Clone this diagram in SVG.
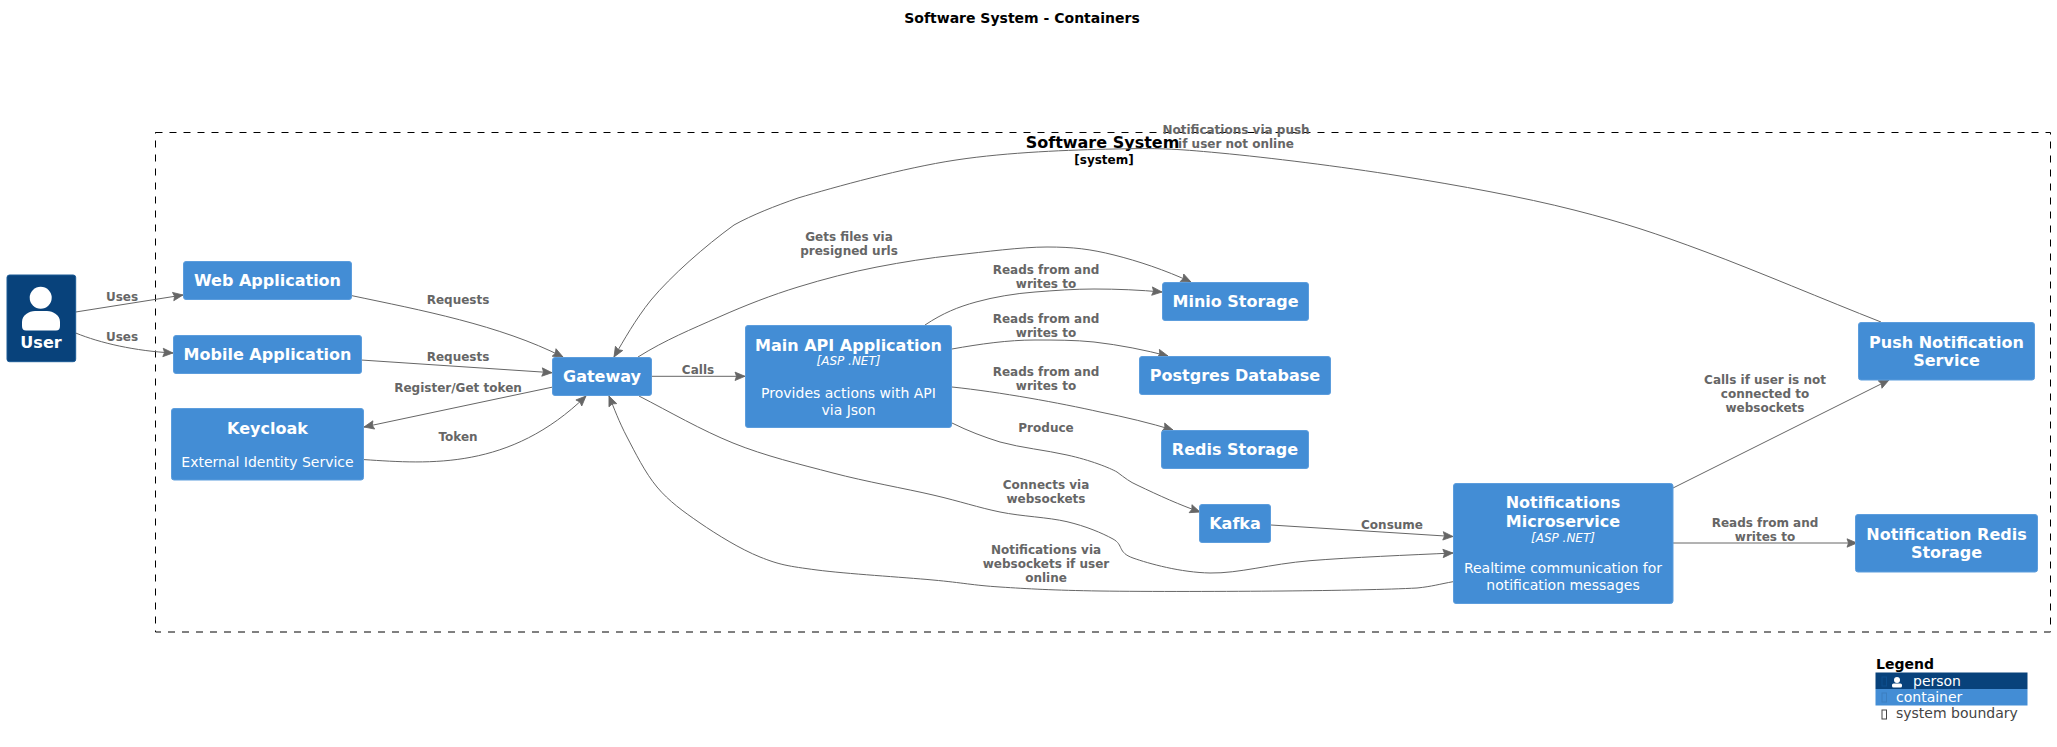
<svg xmlns="http://www.w3.org/2000/svg" width="2057" height="747" viewBox="0 0 2057 747">
<style>
text{font-family:"DejaVu Sans",sans-serif;text-anchor:middle}
.box{fill:#438DD5;stroke:#5C9DDD;stroke-width:1}
.t{font-size:16px;font-weight:bold;fill:#fff}
.d{font-size:14px;fill:#fff}
.k{font-size:12px;font-style:italic;fill:#fff}
.l{font-size:12px;font-weight:bold;fill:#666}
.c path{fill:none;stroke:#666;stroke-width:1;marker-end:url(#a)}
.s{text-anchor:start}
</style>
<defs>
<marker id="a" markerUnits="userSpaceOnUse" markerWidth="14" markerHeight="12" refX="10" refY="4.500" orient="auto" overflow="visible">
<path d="M0,0.300 L10,4.500 L0,8.700 L1.500,4.500 Z" fill="#666" stroke="#666" stroke-width="0.800"/>
</marker>
</defs>
<rect width="2057" height="747" fill="#fff"/>
<text id="title" x="1022" y="23" font-size="14" font-weight="bold">Software System - Containers</text>
<g id="boundary">
<rect x="155.500" y="132.500" width="1895" height="499.500" fill="none" stroke="#000" stroke-width="1" stroke-dasharray="7,7"/>
<text x="1102.500" y="148" font-size="16" font-weight="bold">Software System</text>
<text x="1104" y="164" font-size="12" font-weight="bold">[system]</text>
</g>
<g id="connectors" class="c">
<path d="M75.700,312 L183,295"/>
<path d="M75.700,333 C100,343 135,351 173,353"/>
<path d="M352,295.700 C420,310 500,325 563,357"/>
<path d="M361,360 L552,372.700"/>
<path d="M553,387 L364,427"/>
<path d="M364,459.600 C430,464 510,470 586,396"/>
<path d="M652,376.300 L745,376.300"/>
<path d="M638,357 C665,340 692,329 719,317 C746,305 772,295 798,287 C824,279 851,272 877,267 C903,262 928,258 956,255 C984,252 1021,247 1047,247 C1073,247 1090,249 1114,255 C1138,261 1165,270 1191,282"/>
<path d="M925,325 C943,313 958,307 976,302 C994,297 1015,293.500 1035,292 C1055,290.500 1074,289 1094,289 C1118,289 1140,290 1162,292"/>
<path d="M952,349 C980,344 1008,340 1035,340 C1055,340 1075,340 1094,342 C1120,345 1145,350 1168,356"/>
<path d="M952,387 C1000,392 1060,403 1100,412 C1125,417 1150,423 1173,430"/>
<path d="M952,423 C968,431 984,437 1000,442 C1022,448 1045,450 1067,455 C1090,460 1110,468 1117,472 C1125,478 1130,482 1137,485 C1160,496 1180,505 1200,512"/>
<path d="M639,396 C670,412 701,430 733,443 C765,456 800,464.300 833,473 C866,481.700 905,488.500 933,495 C961,501.500 978,507.500 1000,512 C1022,516.500 1048,517.200 1067,521.700 C1086,526.200 1102,533 1113,539 C1124,545 1117,552.300 1133,558 C1149,563.700 1181,572.500 1210,573 C1239,573.500 1270,564 1310,560.700 C1350,557.400 1410,555 1453,553"/>
<path d="M1271,525 L1453,536.500"/>
<path d="M1453,581.700 C1440,584 1432,586.500 1417,588 C1389,589.500 1336,590.500 1283,591 C1230,591.500 1147,591.700 1100,591 C1053,590.300 1028,588.800 1000,587 C972,585.200 963.500,582.800 933,580 C902.500,577.200 846,573.800 817,570 C788,566.200 779.500,564.800 760,557 C740.500,549.200 717,534.700 700,523 C683,511.300 669,501.300 657,487 C645,472.700 635,452.200 627,437 C619,421.800 614,408 609,396"/>
<path d="M1673,488 L1889,380"/>
<path d="M1673,543 L1857,543"/>
<path d="M1881,322 C1825,300 1757,271 1706,252 C1655,233 1625,223 1574,210 C1523,197 1459,185.500 1400,176 C1341,166.500 1268,157.500 1220,153 C1172,148.500 1158,148 1114,149 C1070,150 1009,152 956,160 C903,168 835,187 798,198 C775,206 752,215 734,225 C705,246 671,276 651,300 C635,320 624,340 614,357"/>
</g>
<g id="labels">
<text class="l" x="122" y="301">Uses</text>
<text class="l" x="122" y="341">Uses</text>
<text class="l" x="458" y="304">Requests</text>
<text class="l" x="458" y="361">Requests</text>
<text class="l" x="458" y="392">Register/Get token</text>
<text class="l" x="458" y="441">Token</text>
<text class="l" x="698" y="374">Calls</text>
<text class="l" x="849" y="241">Gets files via</text>
<text class="l" x="849" y="255">presigned urls</text>
<text class="l" x="1046" y="274">Reads from and</text>
<text class="l" x="1046" y="288">writes to</text>
<text class="l" x="1046" y="323">Reads from and</text>
<text class="l" x="1046" y="337">writes to</text>
<text class="l" x="1046" y="376">Reads from and</text>
<text class="l" x="1046" y="390">writes to</text>
<text class="l" x="1046" y="432">Produce</text>
<text class="l" x="1046" y="489">Connects via</text>
<text class="l" x="1046" y="503">websockets</text>
<text class="l" x="1046" y="554">Notifications via</text>
<text class="l" x="1046" y="568">websockets if user</text>
<text class="l" x="1046" y="582">online</text>
<text class="l" x="1392" y="529">Consume</text>
<text class="l" x="1765" y="384">Calls if user is not</text>
<text class="l" x="1765" y="398">connected to</text>
<text class="l" x="1765" y="412">websockets</text>
<text class="l" x="1765" y="527">Reads from and</text>
<text class="l" x="1765" y="541">writes to</text>
<text class="l" x="1236" y="134">Notifications via push</text>
<text class="l" x="1236" y="148">if user not online</text>
</g>
<g id="user">
<rect x="7" y="275" width="68.700" height="86.700" rx="2.500" fill="#08427B" stroke="#1A5A96"/>
<circle cx="40.700" cy="297.700" r="11" fill="#fff"/>
<path d="M22,326 V322 C22,315 29,311 35,311 H47 C53,311 60,315 60,322 V326 Q60,330.500 56,330.500 H26 Q22,330.500 22,326 Z" fill="#fff"/>
<text class="t" x="41" y="348">User</text>
</g>
<g id="web"><rect class="box" x="183.500" y="261.500" width="168" height="38" rx="2.500"/><text class="t" x="267.500" y="286">Web Application</text></g>
<g id="mobile"><rect class="box" x="173.500" y="335.500" width="188" height="38" rx="2.500"/><text class="t" x="267.500" y="360">Mobile Application</text></g>
<g id="keycloak"><rect class="box" x="171.500" y="408.500" width="192" height="71.500" rx="2.500"/><text class="t" x="267.500" y="434">Keycloak</text><text class="d" x="267.500" y="467">External Identity Service</text></g>
<g id="gateway"><rect class="box" x="552.500" y="357.500" width="99" height="38" rx="2.500"/><text class="t" x="602" y="381.700">Gateway</text></g>
<g id="main"><rect class="box" x="745.500" y="325.500" width="206" height="102" rx="2.500"/><text class="t" x="848.500" y="350.700">Main API Application</text><text class="k" x="848.500" y="365">[ASP .NET]</text><text class="d" x="848.500" y="398">Provides actions with API</text><text class="d" x="848.500" y="414.500">via Json</text></g>
<g id="minio"><rect class="box" x="1162.500" y="282.500" width="146" height="38" rx="2.500"/><text class="t" x="1235.500" y="307">Minio Storage</text></g>
<g id="postgres"><rect class="box" x="1139.500" y="356.500" width="191" height="38" rx="2.500"/><text class="t" x="1235" y="381">Postgres Database</text></g>
<g id="redis"><rect class="box" x="1161.500" y="430.500" width="147" height="38" rx="2.500"/><text class="t" x="1235" y="455">Redis Storage</text></g>
<g id="kafka"><rect class="box" x="1199.500" y="504.500" width="71" height="38" rx="2.500"/><text class="t" x="1235" y="529">Kafka</text></g>
<g id="notifications"><rect class="box" x="1453.500" y="483.500" width="219.500" height="120" rx="2.500"/><text class="t" x="1563" y="508">Notifications</text><text class="t" x="1563" y="527">Microservice</text><text class="k" x="1563" y="542">[ASP .NET]</text><text class="d" x="1563" y="573">Realtime communication for</text><text class="d" x="1563" y="590">notification messages</text></g>
<g id="push"><rect class="box" x="1858.500" y="322.500" width="176" height="57.500" rx="2.500"/><text class="t" x="1946.500" y="348">Push Notification</text><text class="t" x="1946.500" y="366">Service</text></g>
<g id="notification-redis"><rect class="box" x="1855.500" y="514.500" width="182" height="57.500" rx="2.500"/><text class="t" x="1946.500" y="540">Notification Redis</text><text class="t" x="1946.500" y="558">Storage</text></g>
<g id="legend">
<text class="s" x="1876" y="669" font-size="14" font-weight="bold">Legend</text>
<rect x="1875.500" y="672.500" width="152" height="16.500" fill="#08427B"/>
<rect x="1875.500" y="689" width="152" height="16.500" fill="#438DD5"/>
<circle cx="1897" cy="680" r="3" fill="#fff"/>
<rect x="1892" y="683.500" width="10" height="4" rx="1.500" fill="#fff"/>
<rect x="1882" y="677" width="4.500" height="9" fill="none" stroke="#0C4E8E" stroke-width="1"/>
<rect x="1882" y="693" width="4.500" height="9" fill="none" stroke="#3C7FC0" stroke-width="1"/>
<rect x="1882" y="710" width="4.500" height="9" fill="none" stroke="#444" stroke-width="1"/>
<text class="d s" x="1913" y="686">person</text>
<text class="d s" x="1896" y="702">container</text>
<text class="d s" x="1896" y="718" style="fill:#444">system boundary</text>
</g>
</svg>
